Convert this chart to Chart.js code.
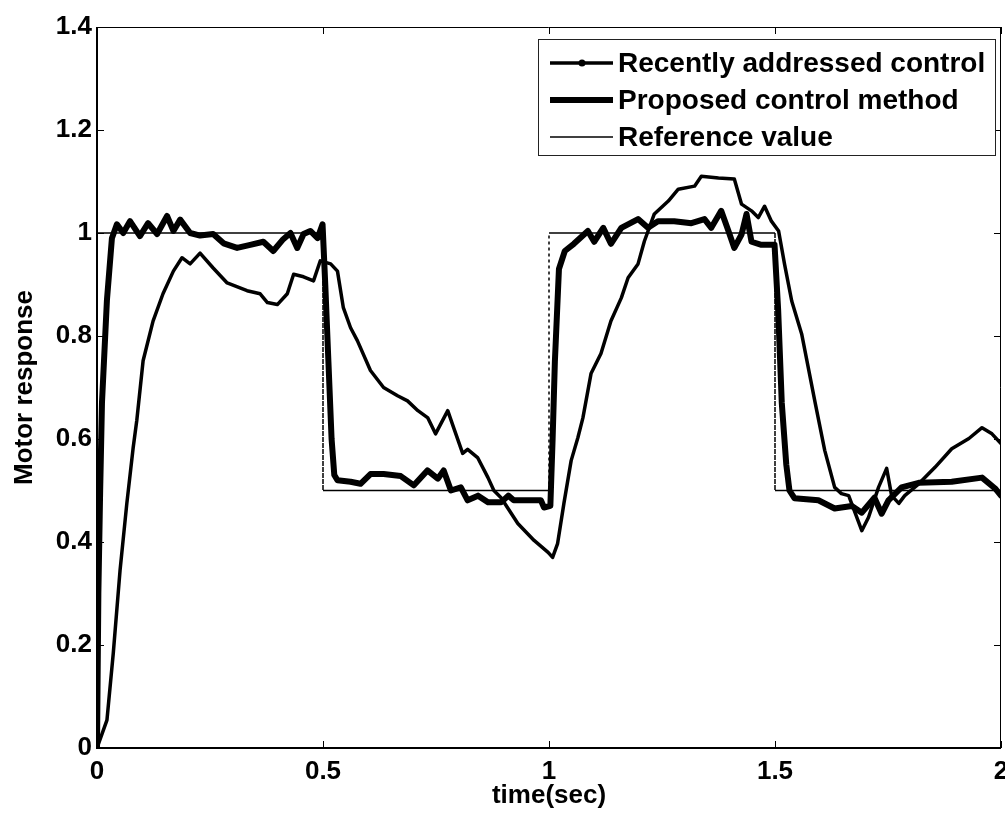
<!DOCTYPE html>
<html>
<head>
<meta charset="utf-8">
<title>Motor response</title>
<script src="https://cdn.jsdelivr.net/npm/chart.js@4.4.1/dist/chart.umd.min.js"></script>
<style>
    html, body { margin: 0; padding: 0; background: #fff; }
    #wrap { width: 1005px; height: 825px; }
</style>
</head>
<body>
<div id="wrap"><canvas id="motorChart" width="1005" height="825"></canvas></div>
<script>
// ==========================================
// Data
// ==========================================

const xTickLabels = ['0', '0.5', '1', '1.5', '2'];
const yTickLabels = ['0', '0.2', '0.4', '0.6', '0.8', '1', '1.2', '1.4'];

const seriesLabels = ['Recently addressed control', 'Proposed control method', 'Reference value'];

// Recently addressed control (thin line)
const recentTime = [
    0, 0.022, 0.036, 0.051, 0.066, 0.08, 0.088, 0.102, 0.124, 0.146, 0.169, 0.188, 0.206, 0.228,
    0.257, 0.288, 0.332, 0.361, 0.377, 0.399, 0.421, 0.435, 0.457, 0.479, 0.494, 0.517, 0.532,
    0.545, 0.561, 0.576, 0.605, 0.634, 0.665, 0.687, 0.71, 0.732, 0.749, 0.776, 0.789, 0.809,
    0.82, 0.842, 0.865, 0.878, 0.894, 0.931, 0.967, 0.998, 1.008, 1.019, 1.033, 1.049, 1.064,
    1.075, 1.093, 1.115, 1.137, 1.16, 1.175, 1.197, 1.211, 1.233, 1.264, 1.286, 1.322, 1.337,
    1.375, 1.41, 1.426, 1.448, 1.463, 1.477, 1.492, 1.508, 1.521, 1.537, 1.559, 1.588, 1.61,
    1.632, 1.647, 1.663, 1.692, 1.707, 1.729, 1.747, 1.758, 1.774, 1.787, 1.818, 1.854, 1.891,
    1.929, 1.958, 1.98, 2.0
];
const recentValue = [
    0, 0.054, 0.184, 0.345, 0.475, 0.583, 0.636, 0.752, 0.829, 0.882, 0.926, 0.952, 0.94, 0.961,
    0.932, 0.903, 0.888, 0.882, 0.865, 0.861, 0.882, 0.92, 0.915, 0.907, 0.946, 0.94, 0.926,
    0.855, 0.816, 0.791, 0.733, 0.70, 0.684, 0.674, 0.655, 0.641, 0.61, 0.655, 0.622, 0.572,
    0.58, 0.564, 0.525, 0.50, 0.486, 0.436, 0.403, 0.38, 0.37, 0.397, 0.475, 0.558, 0.603,
    0.641, 0.727, 0.766, 0.829, 0.874, 0.913, 0.94, 0.984, 1.037, 1.062, 1.085, 1.091, 1.11,
    1.107, 1.105, 1.056, 1.043, 1.03, 1.052, 1.023, 1.004, 0.94, 0.868, 0.804, 0.674, 0.578,
    0.506, 0.494, 0.49, 0.422, 0.448, 0.506, 0.543, 0.49, 0.475, 0.49, 0.513, 0.545, 0.581,
    0.601, 0.622, 0.61, 0.591
];

// Proposed control method (thick line)
const proposedTime = [
    0, 0.003, 0.007, 0.011, 0.022, 0.033, 0.044, 0.058, 0.073, 0.095, 0.113, 0.133, 0.155,
    0.169, 0.184, 0.206, 0.228, 0.257, 0.28, 0.31, 0.339, 0.368, 0.39, 0.412, 0.428, 0.443,
    0.457, 0.472, 0.488, 0.499, 0.505, 0.512, 0.519, 0.525, 0.532, 0.561, 0.583, 0.605, 0.634,
    0.672, 0.701, 0.731, 0.754, 0.767, 0.783, 0.805, 0.82, 0.843, 0.865, 0.894, 0.91, 0.922,
    0.982, 0.989, 1.003, 1.008, 1.013, 1.022, 1.035, 1.055, 1.086, 1.1, 1.12, 1.137, 1.16,
    1.197, 1.219, 1.241, 1.277, 1.315, 1.344, 1.359, 1.381, 1.397, 1.41, 1.426, 1.437, 1.448,
    1.47, 1.499, 1.507, 1.515, 1.525, 1.532, 1.543, 1.596, 1.632, 1.67, 1.692, 1.72, 1.736,
    1.751, 1.78, 1.818, 1.891, 1.958, 1.987, 2.0
];
const proposedValue = [
    0, 0.30, 0.50, 0.67, 0.87, 0.99, 1.017, 1.0, 1.023, 0.994, 1.019, 0.998, 1.033,
    1.004, 1.026, 1.0, 0.995, 0.998, 0.98, 0.971, 0.977, 0.983, 0.965, 0.988, 1.0, 0.971,
    0.998, 1.004, 0.99, 1.017, 0.90, 0.75, 0.60, 0.53, 0.52, 0.517, 0.513, 0.532, 0.532,
    0.528, 0.51, 0.539, 0.523, 0.539, 0.50, 0.506, 0.481, 0.49, 0.477, 0.477, 0.49, 0.481,
    0.481, 0.467, 0.47, 0.60, 0.75, 0.93, 0.965, 0.979, 1.004, 0.983, 1.01, 0.979, 1.01,
    1.027, 1.01, 1.023, 1.023, 1.019, 1.027, 1.01, 1.043, 1.004, 0.971, 0.997, 1.037, 0.983,
    0.977, 0.977, 0.85, 0.67, 0.55, 0.50, 0.485, 0.481, 0.465, 0.47, 0.457, 0.486, 0.455,
    0.481, 0.506, 0.515, 0.517, 0.525, 0.504, 0.49
];

// Reference value (step signal)
const referenceTime = [0, 0.5, 0.5, 1, 1, 1.5, 1.5, 2];
const referenceValue = [1, 1, 0.5, 0.5, 1, 1, 0.5, 0.5];

// ==========================================
// Helpers / plugins
// ==========================================

const FONT = "'Liberation Sans', Arial, Helvetica, sans-serif";

function toPoints(xs, ys) {
    return xs.map(function (x, i) {
        return { x: x, y: ys[i] };
    });
}

// box around the plot plus MATLAB style inward ticks
const frameTicksPlugin = {
    id: 'frameTicks',
    afterDatasetsDraw(chart) {
        const ctx = chart.ctx;
        const a = chart.chartArea;
        const xs = chart.scales.x;
        const ys = chart.scales.y;
        const tl = 7;

        ctx.save();
        ctx.strokeStyle = '#000';
        ctx.lineWidth = 1;
        ctx.beginPath();
        ctx.moveTo(a.left, a.top + 0.5);
        ctx.lineTo(a.right - 0.5, a.top + 0.5);
        ctx.lineTo(a.right - 0.5, a.bottom);
        ctx.stroke();

        ctx.lineWidth = 2;
        ctx.beginPath();
        ctx.moveTo(a.left, a.top);
        ctx.lineTo(a.left, a.bottom);
        ctx.lineTo(a.right, a.bottom);
        ctx.stroke();

        ctx.lineWidth = 1;
        ctx.beginPath();
        ys.ticks.forEach(function (t) {
            const py = Math.round(ys.getPixelForValue(t.value)) + 0.5;
            ctx.moveTo(a.left, py);
            ctx.lineTo(a.left + tl, py);
            ctx.moveTo(a.right, py);
            ctx.lineTo(a.right - tl, py);
        });
        xs.ticks.forEach(function (t) {
            const px = Math.round(xs.getPixelForValue(t.value)) + 0.5;
            ctx.moveTo(px, a.bottom);
            ctx.lineTo(px, a.bottom - tl);
            ctx.moveTo(px, a.top);
            ctx.lineTo(px, a.top + tl);
        });
        ctx.stroke();
        ctx.restore();
    }
};

// legend box in the top right corner
const boxLegendPlugin = {
    id: 'boxLegend',
    afterDraw(chart) {
        const ctx = chart.ctx;
        const box = { left: 538, top: 39, width: 457, height: 116 };

        ctx.save();
        ctx.fillStyle = '#fff';
        ctx.fillRect(box.left, box.top, box.width, box.height);
        ctx.strokeStyle = '#222';
        ctx.lineWidth = 1;
        ctx.strokeRect(box.left + 0.5, box.top + 0.5, box.width, box.height);

        chart.data.datasets.forEach(function (ds, i) {
            const rowY = 63 + i * 37;
            ctx.strokeStyle = ds.borderColor;
            ctx.lineWidth = ds.borderWidth;
            ctx.beginPath();
            ctx.moveTo(550, rowY);
            ctx.lineTo(613, rowY);
            ctx.stroke();
            if (ds.legendDot) {
                ctx.fillStyle = ds.borderColor;
                ctx.beginPath();
                ctx.arc(582, rowY, 3.5, 0, Math.PI * 2);
                ctx.fill();
            }
            ctx.fillStyle = '#000';
            ctx.font = 'bold 28px ' + FONT;
            ctx.textAlign = 'left';
            ctx.textBaseline = 'middle';
            ctx.fillText(ds.label, 618, rowY + 1);
        });
        ctx.restore();
    }
};

// ==========================================
// Chart
// ==========================================

function createChart() {
    const ctx = document.getElementById('motorChart').getContext('2d');

    return new Chart(ctx, {
        type: 'line',
        data: {
            datasets: [
                {
                    label: seriesLabels[0],
                    data: toPoints(recentTime, recentValue),
                    borderColor: '#000',
                    borderWidth: 3.5,
                    borderJoinStyle: 'round',
                    borderCapStyle: 'round',
                    pointRadius: 0,
                    tension: 0,
                    fill: false,
                    legendDot: true
                },
                {
                    label: seriesLabels[1],
                    data: toPoints(proposedTime, proposedValue),
                    borderColor: '#000',
                    borderWidth: 6,
                    borderJoinStyle: 'round',
                    borderCapStyle: 'round',
                    pointRadius: 0,
                    tension: 0,
                    fill: false
                },
                {
                    label: seriesLabels[2],
                    data: toPoints(referenceTime, referenceValue),
                    borderColor: '#000',
                    borderWidth: 1.5,
                    pointRadius: 0,
                    tension: 0,
                    fill: false,
                    segment: {
                        borderDash: function (c) {
                            return c.p0.parsed.x === c.p1.parsed.x ? [3, 3] : undefined;
                        }
                    }
                }
            ]
        },
        options: {
            responsive: false,
            animation: false,
            layout: { padding: { top: 27, right: 4, left: 0, bottom: 0 } },
            scales: {
                x: {
                    type: 'linear',
                    min: 0,
                    max: 2,
                    ticks: {
                        stepSize: 0.5,
                        padding: 8,
                        color: '#000',
                        font: { family: FONT, size: 26, weight: 'bold' },
                        maxRotation: 0,
                        callback: function (v, i) { return xTickLabels[i]; }
                    },
                    grid: { display: false, drawTicks: false },
                    border: { display: false },
                    title: {
                        display: true,
                        text: 'time(sec)',
                        color: '#000',
                        font: { family: FONT, size: 26, weight: 'bold' },
                        padding: { top: 0, bottom: 14 }
                    },
                    afterFit: function (scale) {
                        scale.height = 77;
                        scale.paddingLeft = 0;
                        scale.paddingRight = 0;
                    }
                },
                y: {
                    type: 'linear',
                    min: 0,
                    max: 1.4,
                    ticks: {
                        stepSize: 0.2,
                        padding: 5,
                        color: '#000',
                        font: { family: FONT, size: 26, weight: 'bold' },
                        callback: function (v, i) { return yTickLabels[i]; }
                    },
                    grid: { display: false, drawTicks: false },
                    border: { display: false },
                    title: {
                        display: true,
                        text: 'Motor response',
                        color: '#000',
                        font: { family: FONT, size: 26, weight: 'bold' },
                        padding: { top: 9, bottom: 0 }
                    },
                    afterFit: function (scale) {
                        scale.width = 97;
                        scale.paddingTop = 0;
                        scale.paddingBottom = 0;
                    }
                }
            },
            plugins: {
                legend: { display: false },
                tooltip: { enabled: false },
                title: { display: false }
            }
        },
        plugins: [frameTicksPlugin, boxLegendPlugin]
    });
}

createChart();
</script>
</body>
</html>
